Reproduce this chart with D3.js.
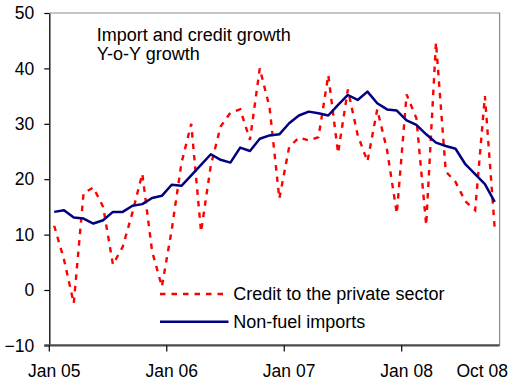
<!DOCTYPE html>
<html>
<head>
<meta charset="utf-8">
<script src="https://cdn.jsdelivr.net/npm/d3@7/dist/d3.min.js"></script>
<style>
  html, body { margin: 0; padding: 0; background: #fff; }
  svg { display: block; font-family: Arial, "Liberation Sans", sans-serif; }
</style>
</head>
<body>
<svg id="chart" width="511" height="383"></svg>
<script>
// Month categories, Jan 05 .. Oct 08
const monthNames = ["Jan","Feb","Mar","Apr","May","Jun","Jul","Aug","Sep","Oct","Nov","Dec"];
const years = ["05","06","07","08"];
const lastMonthIndex = 9; // Oct 08
const categories = [];
years.forEach((y, yi) => monthNames.forEach((m, mi) => {
  if (yi < years.length - 1 || mi <= lastMonthIndex) categories.push(m + " " + y);
}));

// Year-on-year growth, %
const creditPrivate = [
  11.6, 5.5, -2.4, 17.5, 18.5, 15.0, 4.6, 7.8, 14.0, 21.0, 7.0, 0.6,
  10.8, 22.9, 30.0, 10.5, 22.5, 29.5, 32.0, 32.6, 27.1, 40.0, 33.0, 16.5,
  25.8, 27.5, 27.0, 27.6, 38.8, 24.7, 36.2, 28.0, 23.2, 32.6, 25.3, 13.8,
  35.3, 31.0, 11.7, 44.7, 21.4, 19.5, 16.0, 14.4, 35.0, 11.1
];
const nonFuelImports = [
  14.1, 14.4, 13.1, 12.9, 12.0, 12.6, 14.1, 14.1, 15.2, 15.5, 16.6, 17.0,
  19.0, 18.8, 20.7, 22.6, 24.5, 23.5, 23.0, 25.7, 25.1, 27.3, 27.9, 28.1,
  30.1, 31.5, 32.2, 31.9, 31.5, 33.4, 35.2, 34.3, 35.8, 33.7, 32.6, 32.4,
  30.6, 29.8, 28.1, 26.6, 26.0, 25.5, 22.7, 20.9, 19.1, 15.9
];

const xTickLabels = ["Jan 05", "Jan 06", "Jan 07", "Jan 08", "Oct 08"];
const yTicks = [-10, 0, 10, 20, 30, 40, 50];
const titleLines = ["Import and credit growth", "Y-o-Y growth"];
const seriesNames = ["Credit to the private sector", "Non-fuel imports"];

const svg = d3.select("#chart");
const plot = { left: 49.3, right: 499.6, top: 13, bottom: 345.4 };

const x = d3.scaleBand().domain(categories).range([plot.left, plot.right]).padding(0);
const y = d3.scaleLinear().domain([-10, 50]).range([plot.bottom, plot.top]);
const cx = d => x(d) + x.bandwidth() / 2;

// plot frame (top and right)
svg.append("path")
  .attr("d", `M${plot.left},${plot.top}H${plot.right}V${plot.bottom}`)
  .attr("fill", "none").attr("stroke", "#8a8a8a").attr("stroke-width", 1.2);

// y axis
const yAxis = svg.append("g")
  .attr("transform", `translate(${plot.left},0)`)
  .call(d3.axisLeft(y).tickValues(yTicks).tickSize(5).tickPadding(10).tickSizeOuter(0));
yAxis.select(".domain").attr("stroke", "#000").attr("stroke-width", 1.3);
yAxis.selectAll(".tick line").attr("stroke", "#000").attr("stroke-width", 1.2);
yAxis.selectAll(".tick text").attr("font-size", "17.5px").attr("fill", "#000")
  .attr("font-family", "Arial, 'Liberation Sans', sans-serif");

// x axis: ticks on year boundaries, labels centred on the month
const xAxis = svg.append("g")
  .attr("transform", `translate(0,${plot.bottom})`)
  .call(d3.axisBottom(x).tickValues(xTickLabels).tickSize(6).tickPadding(13).tickSizeOuter(0));
xAxis.select(".domain").attr("stroke", "#4a4a4a").attr("stroke-width", 2.2)
  .attr("d", `M${plot.left - 5},0H${plot.right}`);
xAxis.selectAll(".tick line")
  .attr("stroke", "#000").attr("stroke-width", 1.2)
  .attr("x1", -x.bandwidth() / 2).attr("x2", -x.bandwidth() / 2)
  .attr("display", d => d === "Oct 08" ? "none" : null);
xAxis.selectAll(".tick text").attr("font-size", "17.5px").attr("fill", "#000")
  .attr("font-family", "Arial, 'Liberation Sans', sans-serif")
  .each(function(d) {
    if (d === "Oct 08") {
      d3.select(this).attr("text-anchor", "end")
        .attr("x", 508 - cx(d));
    }
  });

// series
const line = d3.line().x((d, i) => cx(categories[i])).y(d => y(d));

svg.append("path").datum(creditPrivate)
  .attr("d", line)
  .attr("fill", "none").attr("stroke", "#ff0000").attr("stroke-width", 2.4)
  .attr("stroke-dasharray", "5.5,6");

svg.append("path").datum(nonFuelImports)
  .attr("d", line)
  .attr("fill", "none").attr("stroke", "#000080").attr("stroke-width", 2.5)
  .attr("stroke-linejoin", "round");

// title
const title = svg.append("text").attr("x", 96.7).attr("y", 41.3)
  .attr("font-size", "18px").attr("fill", "#000");
titleLines.forEach((t, i) => {
  title.append("tspan").attr("x", 96.7).attr("dy", i === 0 ? 0 : 18.4).text(t);
});

// legend
const legend = svg.append("g");
const legendRows = [
  { name: seriesNames[0], color: "#ff0000", dash: "5.5,6", y: 294 },
  { name: seriesNames[1], color: "#000080", dash: null, y: 321.7 }
];
legendRows.forEach(r => {
  legend.append("line")
    .attr("x1", 160).attr("x2", 228.5).attr("y1", r.y).attr("y2", r.y)
    .attr("stroke", r.color).attr("stroke-width", 2.4)
    .attr("stroke-dasharray", r.dash);
  legend.append("text")
    .attr("x", 233.3).attr("y", r.y).attr("dy", "0.35em")
    .attr("font-size", "18px").attr("fill", "#000").text(r.name);
});
</script>
</body>
</html>
